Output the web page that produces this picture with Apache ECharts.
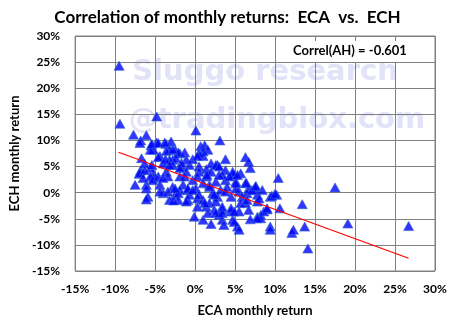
<!DOCTYPE html>
<html><head><meta charset="utf-8">
<script src="https://cdn.jsdelivr.net/npm/echarts@6/dist/echarts.min.js"></script>
<style>html,body{margin:0;padding:0;background:#fff}#c{width:455px;height:327px}</style>
</head><body><div id="c"></div>
<script>
const xTicks = [-15,-10,-5,0,5,10,15,20,25,30];
const yTicks = [-15,-10,-5,0,5,10,15,20,25,30];
const ecaReturns = [
-9.5,-9.4,-4.8,-7.7,-6.1,-6.8,-5.5,-4.8,-3.6,-3.0,-5.2,-4.4,-6.7,-3.2,-1.9,-2.8,-6.8,-7.0,-5.2,-3.6,-1.7,-0.7,
0.1,3.1,-5.6,-2.5,-2.1,-1.3,0.7,1.2,1.6,1.0,-4.6,-3.2,-2.4,-1.1,-0.3,1.0,3.8,6.3,6.7,6.9,-4.0,-2.8,-1.7,0.5,2.0,2.8,
-5.6,-5.2,-6.1,-5.9,-4.4,-4.0,-3.4,-2.8,-2.5,-2.1,-1.9,-1.5,-0.9,-1.1,-0.3,0.1,0.3,0.5,1.4,1.8,2.2,2.8,3.2,3.8,4.0,
4.7,5.1,5.5,5.9,6.3,6.7,7.5,7.8,8.4,9.4,10.2,10.4,7.8,6.7,7.8,8.2,9.4,-0.1,1.0,2.0,3.4,3.6,4.7,5.3,5.5,0.3,1.4,2.4,
3.4,4.5,1.6,3.0,1.0,1.8,-0.9,-1.9,-3.2,
17.5,9.6,10.0,10.6,13.4,13.7,12.1,12.3,19.1,26.7,14.1,6.9,8.2,9.0,8.6,7.5,6.4,6.5,6.3,5.5,4.9,9.4,
-6.9,-5.4,-4.6,-3.8,-3.6,-2.8,-3.7,-6.3,-5.4,-3.2,-1.9,-6.9,-6.3,-5.6,-6.5,
0.5,0.3,1.4,2.6,3.0,3.8,4.7,2.0,5.7,3.4,
-7.5,-6.1,-5.3,-4.6,-4.0,-6.1,-4.4,-3.4,-2.7,-2.1,-2.5,
-1.3,-0.9,-0.7,-1.1,4.9,7.8,1.2,2.6,3.4,4.5,2.6,3.4,4.9,5.7,6.5,4.5,3.8,5.1,7.1,1.0,1.8,2.6,0.3,1.5,3.0,4.3,5.3,5.1,
-0.3,0.5,2.4,8.0,7.6,9.0
];
const echReturns = [
24.3,13.2,14.6,11.1,11.0,10.0,9.1,9.6,9.3,9.8,8.2,7.0,6.6,8.2,7.5,6.3,4.3,3.6,3.6,4.0,5.0,5.3,
11.9,10.0,8.2,8.2,7.7,7.7,8.9,9.1,8.2,7.9,6.8,6.3,6.6,6.3,6.4,7.0,6.4,6.8,5.9,4.7,5.6,5.3,5.7,5.0,5.6,5.3,
4.7,2.8,1.5,-0.8,1.5,-0.1,3.1,1.1,-0.4,-1.4,3.1,1.5,-1.4,4.0,2.4,0.8,-1.1,4.0,3.1,1.5,-0.1,-0.8,0.5,2.4,1.1,
3.4,2.1,0.2,-0.8,1.8,0.8,0.5,-0.4,0.5,-0.8,-0.4,2.8,-1.7,-3.3,-4.6,-4.3,-6.5,-4.6,-5.2,-6.0,-5.2,-6.2,-5.2,-6.5,-7.1,-2.7,-2.7,-3.3,
-3.3,-3.6,-3.9,-4.3,-1.4,-2.0,0.5,0.5,-1.4,
1.0,-0.6,-0.2,-3.0,-2.2,-6.5,-7.7,-7.1,-5.9,-6.4,-10.7,-5.1,-4.9,-3.2,-3.6,1.1,1.9,-0.1,-2.0,-3.6,3.4,-7.1,
9.5,9.3,9.5,9.6,8.0,8.3,6.4,5.6,5.3,5.3,4.7,3.8,4.3,3.1,2.8,
7.5,7.0,4.5,5.3,5.0,4.3,4.0,4.0,3.7,3.4,
1.5,0.8,2.4,3.1,2.8,-1.3,0.2,0.2,-1.5,-0.1,0.8,
3.1,0.8,-0.4,-1.7,-5.6,-4.9,-2.0,-1.7,-2.7,-3.0,-3.9,-3.9,-3.6,-2.0,-1.4,-0.8,0.2,0.8,0.5,1.8,1.1,2.1,3.1,3.4,3.4,3.1,3.4,1.8,
0.5,-0.4,-0.4,-1.1,1.3,-3.0
];
const trendX = [-9.57, 26.7];
const trendY = [7.74, -12.57];

const points = ecaReturns.map((x,i)=>[x, echReturns[i]]);
const trend = trendX.map((x,i)=>[x, trendY[i]]);
const F = 'Lato, "Open Sans", sans-serif';
const W = '"DejaVu Sans", sans-serif';
const chart = echarts.init(document.getElementById('c'), null, {renderer:'canvas'});
chart.setOption({
  animation:false,
  backgroundColor:'#fff',
  title:{text:'Correlation of monthly returns:  ECA  vs.  ECH', left:'center', top:4,
    textStyle:{fontFamily:F, fontWeight:'bold', fontSize:17, color:'#000'}},
  grid:{left:71, right:20, top:36, bottom:56, show:true, borderColor:'#808080', borderWidth:1},
  graphic:[
    {type:'text', z:-10, x:265, y:72, style:{text:'Sluggo research', fill:'#e2e2f8', font:'bold 29px '+W, textAlign:'center', textVerticalAlign:'middle'}},
    {type:'text', z:-10, x:277, y:120, style:{text:'@tradingblox.com', fill:'#e2e2f8', font:'bold 29px '+W, textAlign:'center', textVerticalAlign:'middle'}},
    {type:'rect', z:50, shape:{x:281, y:41, width:143, height:21}, style:{fill:'#fff'}},
    {type:'text', z:51, x:350, y:51, style:{text:'Correl(AH) = -0.601', fill:'#000', font:'bold 13px '+F, textAlign:'center', textVerticalAlign:'middle'}}
  ],
  xAxis:{type:'value', min:-15, max:30, interval:5,
    name:'ECA monthly return', nameLocation:'middle', nameGap:33,
    nameTextStyle:{fontFamily:F, fontWeight:'bold', fontSize:13, color:'#000'},
    axisLine:{show:true, lineStyle:{color:'#808080'}}, axisTick:{show:false},
    axisLabel:{formatter:v=>xTicks.includes(v)?v+'%':'', margin:12, fontFamily:F, fontWeight:'bold', fontSize:12, color:'#000'},
    splitLine:{show:true, lineStyle:{color:'#808080', width:1}}},
  yAxis:{type:'value', min:-15, max:30, interval:5,
    name:'ECH monthly return', nameLocation:'middle', nameGap:42, nameRotate:90,
    nameTextStyle:{fontFamily:F, fontWeight:'bold', fontSize:13, color:'#000'},
    axisLine:{show:true, lineStyle:{color:'#808080'}}, axisTick:{show:false},
    axisLabel:{formatter:v=>yTicks.includes(v)?v+'%':'', margin:15, fontFamily:F, fontWeight:'bold', fontSize:12, color:'#000'},
    splitLine:{show:true, lineStyle:{color:'#808080', width:1}}},
  series:[
    {type:'scatter', data:points, symbol:'triangle', symbolSize:[10,9], z:3,
      itemStyle:{color:'#0000ff', borderColor:'#3366cc', borderWidth:0.8}},
    {type:'line', data:trend, symbol:'none', z:4, lineStyle:{color:'#ff0000', width:1.2}}
  ]
});
</script></body></html>
